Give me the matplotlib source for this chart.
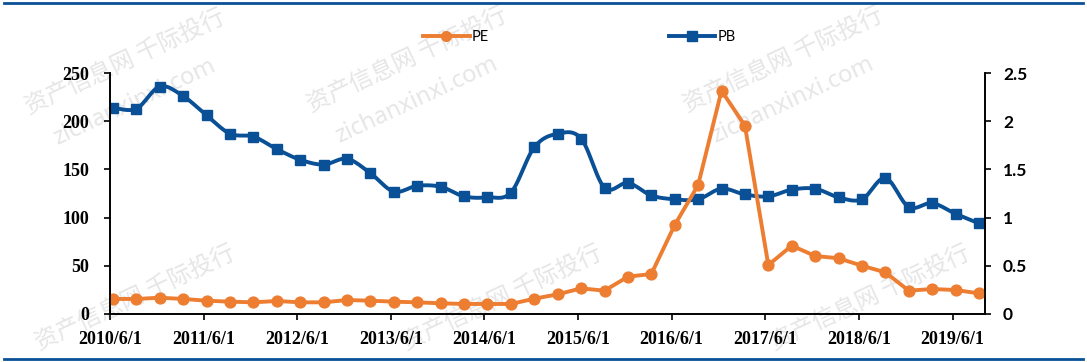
""" PE / PB valuation chart, 2010-2019. """

import numpy as np
import matplotlib
matplotlib.use('Agg')
import matplotlib.pyplot as plt
from matplotlib.lines import Line2D


""" Data """

tick_labels = ['2010/6/1', '2011/6/1', '2012/6/1', '2013/6/1', '2014/6/1',
               '2015/6/1', '2016/6/1', '2017/6/1', '2018/6/1', '2019/6/1']

pe = [15.6, 15.6, 16.9, 15.6, 13.8, 12.8, 12.1, 13.5, 12.1, 12.1,
      14.5, 13.8, 12.8, 12.1, 11.1, 10.4, 10.4, 10.4, 15.9, 20.4,
      26.6, 24.2, 38.7, 41.5, 92.3, 133.8, 231.6, 195.4, 50.8, 70.9,
      60.2, 57.8, 50.1, 43.2, 24.2, 25.9, 24.9, 21.4]

pb = [2.14, 2.13, 2.36, 2.26, 2.06, 1.87, 1.84, 1.71, 1.60, 1.55,
      1.61, 1.46, 1.27, 1.33, 1.32, 1.22, 1.21, 1.26, 1.73, 1.87,
      1.82, 1.31, 1.36, 1.23, 1.19, 1.19, 1.30, 1.24, 1.22, 1.29,
      1.30, 1.21, 1.19, 1.41, 1.11, 1.15, 1.04, 0.94]

ORANGE = '#ed7d31'
BLUE = '#0a5096'
WM_COLOR = '#e6e6e6'


""" Functions """


def smooth(x, y, n=12):
    """ Catmull-Rom curve through the points (like Excel's smoothed line). """
    x = np.asarray(x, float)
    y = np.asarray(y, float)
    px = np.concatenate([[x[0]], x, [x[-1]]])
    py = np.concatenate([[y[0]], y, [y[-1]]])
    xs, ys = [], []
    t = np.linspace(0, 1, n, endpoint=False)
    for i in range(1, len(px) - 2):
        p0x, p1x, p2x, p3x = px[i - 1], px[i], px[i + 1], px[i + 2]
        p0y, p1y, p2y, p3y = py[i - 1], py[i], py[i + 1], py[i + 2]
        c1x, c1y = p1x + (p2x - p0x) / 6, p1y + (p2y - p0y) / 6
        c2x, c2y = p2x - (p3x - p1x) / 6, p2y - (p3y - p1y) / 6
        b0, b1, b2, b3 = (1 - t) ** 3, 3 * t * (1 - t) ** 2, 3 * t ** 2 * (1 - t), t ** 3
        xs.extend(b0 * p1x + b1 * c1x + b2 * c2x + b3 * p2x)
        ys.extend(b0 * p1y + b1 * c1y + b2 * c2y + b3 * p2y)
    xs.append(x[-1])
    ys.append(y[-1])
    return np.array(xs), np.array(ys)


""" Main program """

fig = plt.figure(figsize=(10.87, 3.62), dpi=100)
ax = fig.add_axes([0.1012, 0.1326, 0.8050, 0.6657])
ax2 = ax.twinx()
ax.set_zorder(ax2.get_zorder() + 1)
ax.patch.set_visible(False)
ax2.patch.set_visible(False)

x = np.arange(len(pe))

sx, sy = smooth(x, pb)
ax2.plot(sx, sy, color=BLUE, lw=2.8, solid_capstyle='round')
ax2.plot(x, pb, ls='none', marker='s', ms=7.2, color=BLUE)

ax.plot(x, pe, color=ORANGE, lw=2.8, solid_joinstyle='round',
        marker='o', ms=7.8)

ax.set_xlim(-0.13, 37.26)
ax.set_ylim(0, 250)
ax2.set_ylim(0, 2.5)

ax.set_xticks([4 * k - 0.13 for k in range(len(tick_labels))])
ax.set_xticklabels(tick_labels, fontfamily='Liberation Serif',
                   fontweight='bold', fontsize=13)
ax.set_yticks(range(0, 251, 50))
ax.set_yticklabels([str(v) for v in range(0, 251, 50)],
                   fontfamily='Liberation Serif', fontweight='bold', fontsize=13)
ax2.set_yticks([0, 0.5, 1, 1.5, 2, 2.5])
ax2.set_yticklabels(['0', '0.5', '1', '1.5', '2', '2.5'],
                    fontfamily='Lato', fontweight='bold', fontsize=12.5)

for a in (ax, ax2):
    a.spines['top'].set_visible(False)
    for s in ('left', 'right', 'bottom'):
        a.spines[s].set_linewidth(1.2)
        a.spines[s].set_color('black')
ax.tick_params(axis='x', direction='out', length=4, width=1.2, pad=8)
ax.tick_params(axis='y', direction='out', length=4, width=1.2, pad=11)
ax2.tick_params(axis='y', direction='out', length=4, width=1.2, pad=9)

handles = [
    Line2D([], [], color=ORANGE, lw=2.8, marker='o', ms=7),
    Line2D([], [], color=BLUE, lw=2.8, marker='s', ms=6.5),
]
fig.legend(handles, ['PE', 'PB'], loc='center', bbox_to_anchor=(0.533, 0.898),
           ncol=2, frameon=False, handlelength=3.2, handletextpad=0.15,
           columnspacing=12.3, prop={'family': 'Lato', 'size': 10.5})

# blue rules at top and bottom of the figure
fig.add_artist(Line2D([0.004, 0.996], [0.992, 0.992], color=BLUE, lw=2))
fig.add_artist(Line2D([0.004, 0.996], [0.008, 0.008], color=BLUE, lw=2))

# faint watermark, kept inside the frame
wm_main = '资产信息网 千际投行'
wm_sub = 'zichanxinxi.com'
for cx, cy in [(125, 62), (407, 60), (783, 60)]:
    fig.text(cx / 1087, 1 - cy / 362, wm_main, rotation=25, ha='center', va='center',
             fontsize=17, color=WM_COLOR, family='Noto Sans CJK SC', zorder=-1)
    fig.text((cx + 10) / 1087, 1 - (cy + 40) / 362, wm_sub, rotation=25, ha='center',
             va='center', fontsize=17, color=WM_COLOR, family='Noto Sans', zorder=-1)
for cx, cy in [(135, 298), (502, 298), (870, 298)]:
    fig.text(cx / 1087, 1 - cy / 362, wm_main, rotation=25, ha='center', va='center',
             fontsize=17, color=WM_COLOR, family='Noto Sans CJK SC', zorder=-1)

fig.savefig('out.png', dpi=100)
